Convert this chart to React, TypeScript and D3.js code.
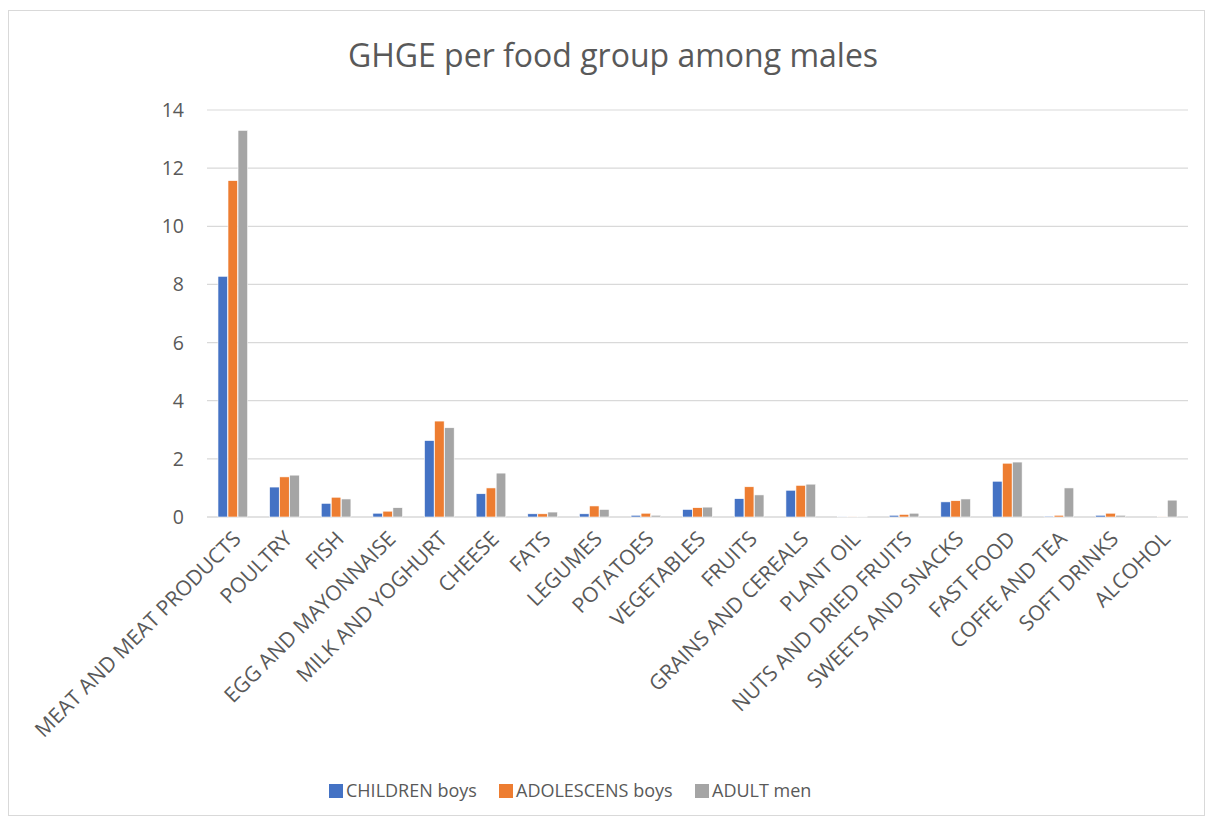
import React, { useEffect, useRef } from 'react';
import * as d3 from 'd3';

const categories = [
  'MEAT AND MEAT PRODUCTS', 'POULTRY', 'FISH', 'EGG AND MAYONNAISE', 'MILK AND YOGHURT',
  'CHEESE', 'FATS', 'LEGUMES', 'POTATOES', 'VEGETABLES', 'FRUITS', 'GRAINS AND CEREALS',
  'PLANT OIL', 'NUTS AND DRIED FRUITS', 'SWEETS AND SNACKS', 'FAST FOOD', 'COFFE AND TEA',
  'SOFT DRINKS', 'ALCOHOL',
];

const seriesNames = ['CHILDREN boys', 'ADOLESCENS boys', 'ADULT men'];
const seriesColors = ['#4472C4', '#ED7D31', '#A5A5A5'];

const childrenBoys = [8.28, 1.03, 0.47, 0.13, 2.63, 0.8, 0.11, 0.11, 0.06, 0.26, 0.63, 0.92, 0.02, 0.06, 0.52, 1.23, 0.03, 0.06, 0];
const adolescensBoys = [11.57, 1.38, 0.68, 0.2, 3.3, 1.0, 0.11, 0.38, 0.13, 0.32, 1.04, 1.09, 0.02, 0.09, 0.56, 1.85, 0.06, 0.13, 0.02];
const adultMen = [13.3, 1.44, 0.62, 0.32, 3.07, 1.51, 0.17, 0.26, 0.06, 0.34, 0.76, 1.13, 0.02, 0.13, 0.62, 1.89, 1.0, 0.06, 0.58];

const yTicks = [0, 2, 4, 6, 8, 10, 12, 14];

const W = 1197;
const H = 806;

const App: React.FC = () => {
  const svgRef = useRef<SVGSVGElement>(null);

  useEffect(() => {
    if (!svgRef.current) return;
    const svg = d3.select(svgRef.current);
    svg.selectAll('*').remove();

    const font = '"Open Sans", Lato, sans-serif';
    const textColor = '#595959';
    const series = [childrenBoys, adolescensBoys, adultMen];

    // plot area (svg coords, svg sits at page 8,10)
    const left = 199;
    const right = 1180;
    const top = 100;
    const bottom = 507;

    svg.append('rect')
      .attr('x', 0.5).attr('y', 0.5)
      .attr('width', W - 1).attr('height', H - 1)
      .style('fill', '#fff')
      .style('stroke', '#D9D9D9');

    svg.append('text')
      .attr('x', 605)
      .attr('y', 57)
      .attr('text-anchor', 'middle')
      .style('font-family', font)
      .style('font-size', '32px')
      .style('fill', textColor)
      .text('GHGE per food group among males');

    const y = d3.scaleLinear().domain([0, 14]).range([bottom, top]);
    const x0 = d3.scaleBand().domain(categories).range([left, right]).paddingInner(0.41).paddingOuter(0.205);
    const x1 = d3.scaleBand().domain(seriesNames).range([0, x0.bandwidth()]).padding(0.04);

    yTicks.forEach(t => {
      svg.append('line')
        .attr('x1', left).attr('x2', right)
        .attr('y1', y(t)).attr('y2', y(t))
        .style('stroke', '#D9D9D9')
        .style('stroke-width', t === 0 ? 1.5 : 1.2);
      svg.append('text')
        .attr('x', left - 23)
        .attr('y', y(t))
        .attr('dy', '0.36em')
        .attr('text-anchor', 'end')
        .style('font-family', font)
        .style('font-size', '19.5px')
        .style('fill', textColor)
        .text(t);
    });

    categories.forEach((c, i) => {
      const g = svg.append('g').attr('transform', `translate(${x0(c)},0)`);
      series.forEach((vals, s) => {
        const v = vals[i];
        g.append('rect')
          .attr('x', x1(seriesNames[s])!)
          .attr('y', y(v))
          .attr('width', x1.bandwidth())
          .attr('height', y(0) - y(v))
          .style('fill', seriesColors[s])
          .style('stroke', '#fff')
          .style('stroke-width', 0.6);
      });

      const cx = x0(c)! + x0.bandwidth() / 2 + 4;
      svg.append('text')
        .attr('transform', `translate(${cx},${bottom + 18}) rotate(-45)`)
        .attr('text-anchor', 'end')
        .attr('dy', '0.35em')
        .style('font-family', font)
        .style('font-size', '21px')
        .style('fill', textColor)
        .text(c);
    });

    // legend
    const legendX = [321, 491, 687];
    seriesNames.forEach((n, s) => {
      svg.append('rect')
        .attr('x', legendX[s]).attr('y', 774)
        .attr('width', 14).attr('height', 14)
        .style('fill', seriesColors[s]);
      svg.append('text')
        .attr('x', legendX[s] + 17)
        .attr('y', 781)
        .attr('dy', '0.36em')
        .style('font-family', font)
        .style('font-size', '18px')
        .style('fill', textColor)
        .text(n);
    });
  }, []);

  return (
    <svg
      ref={svgRef}
      width={W}
      height={H}
      style={{ display: 'block', marginTop: 2 }}
    />
  );
};

export default App;
